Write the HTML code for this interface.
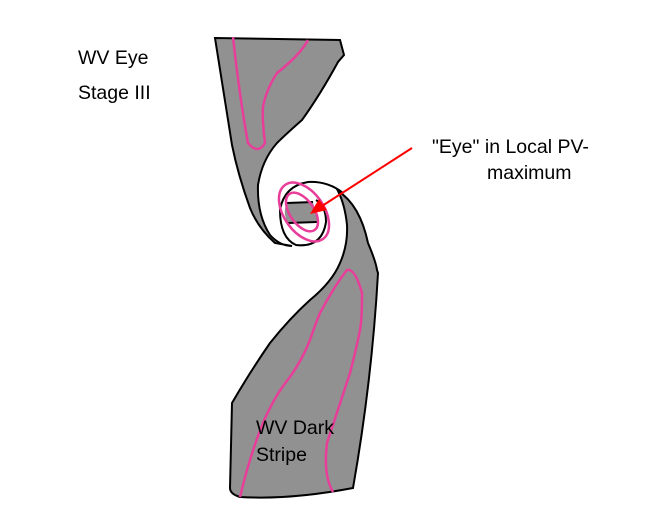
<!DOCTYPE html>
<html><head><style>body{margin:0;background:#fff}</style></head><body>
<svg width="650" height="524" viewBox="0 0 650 524" xmlns="http://www.w3.org/2000/svg" font-family="Liberation Sans, sans-serif" font-size="19.5">
<rect width="650" height="524" fill="#fff"/>
<!-- top shape -->
<path d="M215,38 L340,40 L344,55 L338,62 Q320,95 302,120 Q285,135 277,143 Q262,160 258,185 Q257,215 270,235 Q280,246 292,246 L275,243 Q258,228 250,208 Q238,175 232,145 Z" fill="#919191" stroke="#000" stroke-width="2"/>
<!-- lower shape -->
<path d="M338,191 Q360,205 368,243 Q376,262 377,270 L378,273 Q372,380 353,488 Q290,500 240,497 Q230,494 230,488 L232,403 Q250,372 270,343 Q290,318 310,300 Q332,282 340,263 Q348,245 347,225 Q345,205 338,191 Z" fill="#919191" stroke="#000" stroke-width="2"/>
<!-- curl loop -->
<path d="M343,193 Q328,181 308,182 Q284,186 280,210 Q280,238 296,245 Q322,248 326,222 Q326,206 316,200" fill="none" stroke="#000" stroke-width="2"/>
<!-- eye inner -->
<path d="M287,203 L313,202 L318,222 L288,223 Q282,212 287,203 Z" fill="#919191"/>
<path d="M287,203 L313,202 M288,223 L317,222" stroke="#000" stroke-width="2"/>
<ellipse cx="304" cy="212" rx="20" ry="33" transform="rotate(-35 304 212)" fill="none" stroke="#e83e9a" stroke-width="2.5"/>
<ellipse cx="302" cy="212" rx="12" ry="22" transform="rotate(-35 302 212)" fill="none" stroke="#e83e9a" stroke-width="2.5"/>
<!-- pink lines -->
<path d="M233,37 Q240,100 248,143 Q258,155 265,143 Q262,120 263,107 Q266,90 277,73 Q300,55 308,40" fill="none" stroke="#e83e9a" stroke-width="2.5"/>
<path d="M240,497 Q250,455 263,423 Q275,395 290,377 Q302,360 310,340 Q315,325 320,313 Q335,285 347,270 Q355,268 362,293 Q362,320 360,330 Q356,350 350,373 Q338,410 327,443 Q323,475 333,492" fill="none" stroke="#e83e9a" stroke-width="2.5"/>
<!-- arrow -->
<line x1="412" y1="148" x2="322" y2="206" stroke="#f00" stroke-width="2"/>
<polygon points="310,214 319,199 327,210" fill="#f00"/>
<text x="78" y="64">WV Eye</text>
<text x="78" y="99">Stage III</text>
<text x="432" y="153">"Eye" in Local PV-</text>
<text x="487" y="179">maximum</text>
<text x="256" y="434">WV Dark</text>
<text x="256" y="461">Stripe</text>
</svg>
</body></html>
